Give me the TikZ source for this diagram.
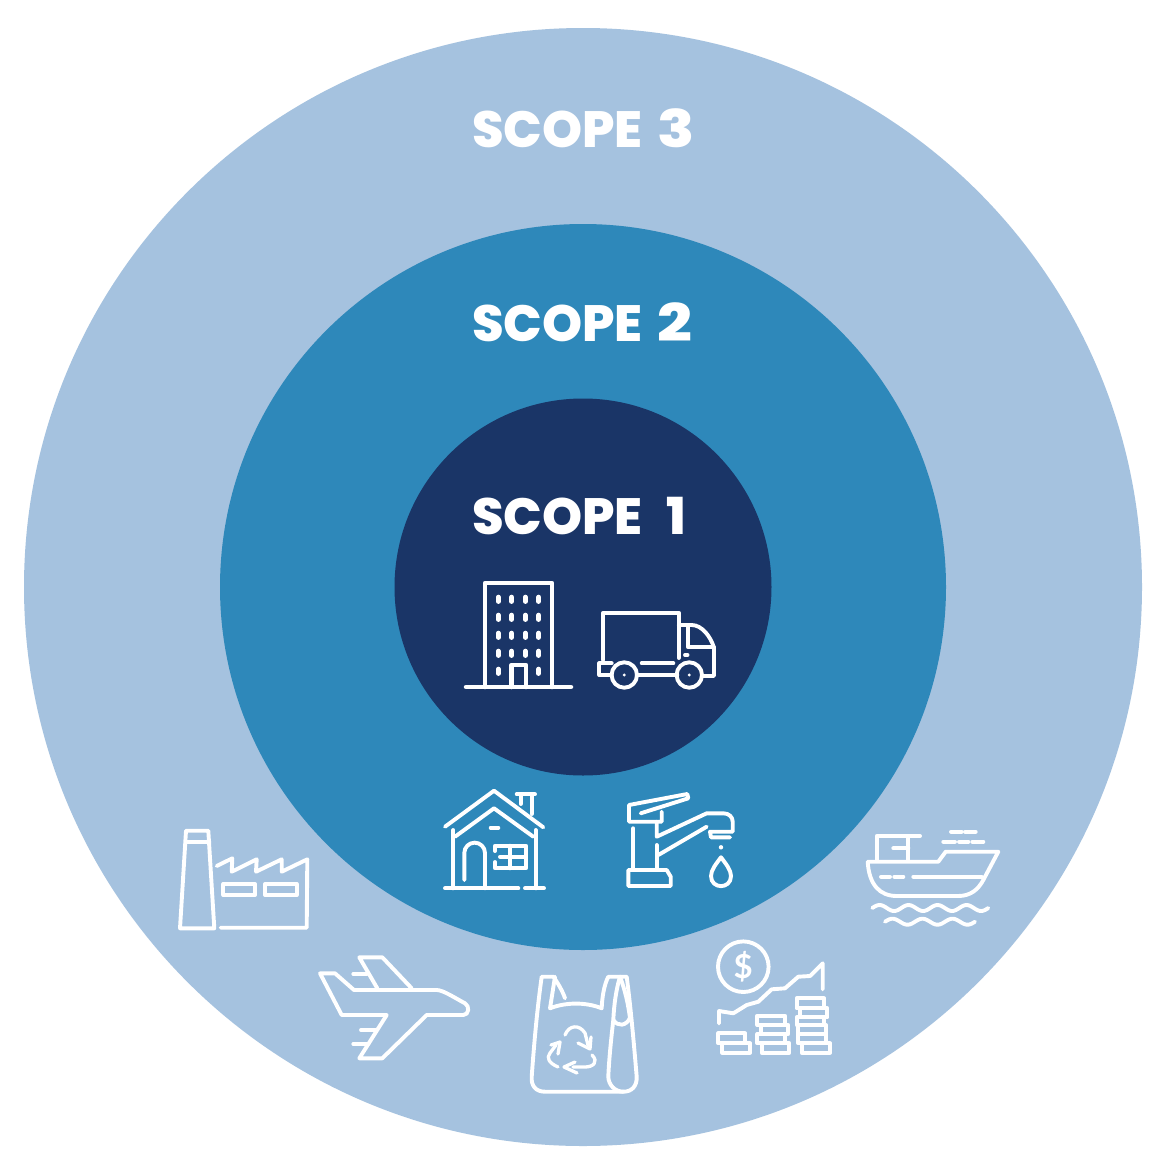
\documentclass[tikz,border=0pt]{standalone}
\usepackage{fontspec}
\setmainfont{Poppins}[BoldFont={Poppins ExtraBold}]
\newfontfamily\dollarfont{Lato}
\definecolor{scopeA}{HTML}{A5C2DF}
\definecolor{scopeB}{HTML}{2E88BA}
\definecolor{scopeC}{HTML}{1A3567}
\tikzset{
  icon/.style={draw=white,line width=3.9pt,line cap=round,line join=round},
  iconbold/.style={icon,line width=4.5pt},
  recyc/.style={icon,line width=3.3pt},
  scopelabel/.style={text=white,font=\fontsize{51}{51}\selectfont\bfseries,anchor=base west,inner sep=0pt,outer sep=0pt},
  wind/.style={draw=white,line width=4.8pt,line cap=round}
}
\begin{document}
\begin{tikzpicture}[x=1pt,y=-1pt]
\useasboundingbox (0,0) rectangle (1166,1170);
\fill[white] (0,0) rectangle (1166,1170);
\fill[scopeA] (583,587) circle[radius=559];
\fill[scopeB] (583,587) circle[radius=363];
\fill[scopeC] (583,587) circle[radius=188.5];
\node[scopelabel] (s3) at (472,147.5) {SCOPE\hspace{15pt}\scalebox{1.2}[1.02]{3}};
\node[scopelabel] (s2) at (472,341) {SCOPE\hspace{15pt}\scalebox{1.2}[1.02]{2}};
\node[scopelabel] (s1) at (472,534.5) {SCOPE\hspace{24pt}1};
% building
\draw[iconbold] (485,687) -- (485,583) -- (552,583) -- (552,687);
\draw[iconbold] (466,687) -- (571,687);
\draw[iconbold] (511.7,687) -- (511.7,665) -- (526,665) -- (526,687);
\foreach \wx in {498.3,511.7,525.3,538.7}
  \foreach \wy in {599.3,617.3,635.3,653.3}
    \draw[wind] (\wx,\wy-2.2) -- (\wx,\wy+2.2);
\foreach \wx in {498.3,538.7}
  \draw[wind] (\wx,669.1) -- (\wx,673.5);
% truck
\draw[icon] (603.3,660) -- (603.3,612.7) -- (678.7,612.7) -- (678.7,658);
\draw[icon] (678.7,625) -- (691.7,625) .. controls (702,625) and (711,637) .. (714,648) -- (714,676) -- (701.7,676);
\draw[icon] (688.3,625) -- (688.3,647.3) -- (714,647.3);
\draw[icon] (611.7,663.3) -- (599.3,663.3) -- (599.3,675) -- (611.7,675);
\draw[icon] (636.7,675) -- (677.3,675);
\draw[icon] (641.7,663.3) -- (673.3,663.3);
\draw[icon] (685,655) -- (687.5,655);
\draw[icon] (624.3,675) circle[radius=12.7];
\draw[icon] (689.3,675) circle[radius=12.7];
\fill[white] (624.3,675) circle[radius=1.6];
\fill[white] (689.3,675) circle[radius=1.6];
% house
\draw[icon] (445,826.7) -- (494,790.7) -- (543.3,827.3);
\draw[icon] (455,836.7) -- (494,808.3) -- (533.3,836.7);
\draw[icon] (453.3,830) -- (453.3,888.3);
\draw[icon] (535.7,830) -- (535.7,888.3);
\draw[icon] (445,888.3) -- (518.3,888.3);
\draw[icon] (525,888.3) -- (544,888.3);
\draw[icon] (520.7,795) -- (520.7,804);
\draw[icon] (531.7,795) -- (531.7,814);
\draw[icon] (516.7,794.3) -- (535,794.3);
\draw[icon] (464.3,880) -- (464.3,853) arc[start angle=180,end angle=360,x radius=10.35,y radius=10.35] -- (485,888.3);
\draw[icon] (490.7,827.7) -- (498.3,827.7);
\draw[icon] (500,856.7) -- (526,856.7) -- (526,845.7) -- (495,845.7) -- (495,851);
\draw[icon] (495,862) -- (495,868.3) -- (526,868.3) -- (526,856.7);
\draw[icon] (510,845.7) -- (510,868.3);
% faucet
\draw[icon] (640.7,813.3) -- (688.3,798.3) -- (687.3,794) -- (629,805) -- (629,821.7) -- (661.7,821.7) -- (661.7,811.7);
\draw[icon] (633.3,828.3) -- (633.3,870);
\draw[icon] (656.7,821.7) -- (656.7,836.7) -- (706.7,813.3) -- (723.3,813.3) .. controls (729,813.3) and (732.7,817) .. (732.7,821.7) -- (732.7,831.7) -- (710,831.7) -- (711,837.3) -- (730,837.3);
\draw[icon] (656.7,845) -- (656.7,870);
\draw[icon] (658.3,855) -- (706.7,826.7);
\draw[icon] (628.3,870) -- (666.7,870) -- (670.7,876.7) -- (670.7,886) -- (628.3,886) -- cycle;
\fill[white] (721,847.3) circle[radius=2.2];
\draw[icon] (721,857.3) .. controls (716,864) and (711,870) .. (711,876) .. controls (711,889.5) and (731,889.5) .. (731,876) .. controls (731,870) and (726,864) .. (721,857.3) -- cycle;
% factory
\draw[icon] (186,830.7) -- (208.3,830.7) -- (214.3,928.3) -- (180,928.3) -- cycle;
\draw[icon] (186.7,841.7) -- (209.3,841.7);
\draw[icon] (216.7,866) -- (232.3,858.3) -- (231.7,871.7) -- (256.7,859.3) -- (256,871.7) -- (281.7,859.3) -- (281.7,871.7) -- (307.3,859.3) -- (306.7,927.7) -- (220.7,927.7);
\draw[icon] (223.3,884) rectangle (255,895);
\draw[icon] (265,884) rectangle (296.7,895);
% plane
\draw[icon] (320,973.3) -- (335,973.3) -- (354,990) -- (436.7,990) .. controls (443,990) and (455,998) .. (465,1003.3) .. controls (470,1006) and (469,1015) .. (463.3,1015) -- (426.7,1015) -- (382.3,1058.3) -- (359.3,1058.3) -- (386.7,1015) -- (341.7,1015) -- cycle;
\draw[icon] (377.3,988.3) -- (359.3,957.3) -- (382.3,957.3) -- (411.7,988.3);
\draw[icon] (353.3,974) -- (366.7,974);
\draw[icon] (361,1030) -- (376.7,1030);
\draw[icon] (353.3,1044) -- (368.3,1044);
% bag
\draw[icon] (608.3,976.7) -- (626.7,976.7) .. controls (631,1010) and (634,1045) .. (636.7,1076.7) .. controls (637,1086) and (632,1091.7) .. (623.3,1091.7) -- (545,1091.7) .. controls (536,1091.7) and (531,1086) .. (531.7,1076.7) .. controls (534,1045) and (537,1010) .. (541.7,976.7) -- (553.3,976.7) .. controls (558,983) and (563,992) .. (565,998.3);
\draw[icon] (555,976.7) -- (550,1008.3) .. controls (566,1002) and (586,1002) .. (601.7,1008.3) .. controls (602,998) and (604,985) .. (608.3,976.7);
\draw[icon] (620,976.7) .. controls (616,990) and (614,1005) .. (613.3,1020) .. controls (611,1040) and (609,1060) .. (608.3,1076.7) .. controls (608.5,1085) and (615,1091.7) .. (623.3,1091.7);
\draw[icon] (613.3,1020) .. controls (618,1027) and (626,1026) .. (630,1018);
\draw[icon] (620,976.7) .. controls (625,990) and (628,1003) .. (630,1018);
% recycle
\draw[recyc] (565,1035) .. controls (569,1025) and (579,1024) .. (585,1033) -- (588,1045);
\draw[recyc] (578,1043) -- (590,1049) -- (591,1037);
\draw[recyc] (592,1055) .. controls (599,1062) and (593,1067) .. (585,1067) -- (573,1067);
\draw[recyc] (575,1062) -- (564,1067) -- (577,1073);
\draw[recyc] (558,1067) .. controls (549,1063) and (546,1058) .. (550,1053) -- (556,1045);
\draw[recyc] (551,1045) -- (560,1042) -- (558,1054);
% finance
\draw[icon] (743.3,966.7) circle[radius=25.3];
\node[text=white,font=\dollarfont\bfseries\fontsize{33}{33}\selectfont,inner sep=0pt] (dollar) at (743.3,966.7) {\$};
\draw[icon] (719,1023.3) -- (719,1011) -- (733.3,1013.3) -- (746.7,1005) -- (758.3,1001.7) -- (771.7,989.3) -- (785,988.3) -- (798.3,976.7) -- (810,976) -- (822.7,963.3) -- (822.7,989.3);
\draw[icon] (718.3,1033.3) rectangle (745,1043.3);
\draw[icon] (722.3,1043.3) rectangle (750,1052.7);
\draw[icon] (757.3,1015.7) rectangle (785,1025);
\draw[icon] (760.7,1025) rectangle (788.3,1034);
\draw[icon] (757.3,1034) rectangle (785,1043.3);
\draw[icon] (761.7,1043.3) rectangle (789.3,1052.7);
\draw[icon] (796.7,998.3) rectangle (824,1008.3);
\draw[icon] (800,1008.3) rectangle (827.3,1017.3);
\draw[icon] (796.7,1017.3) rectangle (824,1025);
\draw[icon] (798.3,1025) rectangle (826,1034);
\draw[icon] (798.3,1034) rectangle (826,1043.3);
\draw[icon] (801.7,1043.3) rectangle (830,1052.7);
% ship
\draw[icon] (867.7,861.7) -- (938.3,861.7) -- (945.7,851.7) -- (998.3,851.7) -- (983.3,880) .. controls (978,890) and (970,896) .. (958.3,896) -- (896.7,896) .. controls (880,896) and (869,885) .. (867.7,861.7);
\draw[icon] (913.3,876.7) -- (981.7,876.7);
\draw[icon] (881,876.7) -- (890,876.7);
\draw[icon] (894.3,876.7) -- (903.3,876.7);
\draw[icon] (876.7,860) -- (876.7,836) -- (920,836);
\draw[icon] (908.3,836) -- (908.3,860);
\draw[icon] (893.3,848.3) -- (908.3,848.3);
\draw[icon] (951,831.7) -- (961.7,831.7);
\draw[icon] (965,831.7) -- (975.7,831.7);
\draw[icon] (943.3,841.7) -- (955,841.7);
\draw[icon] (959,841.7) -- (968.3,841.7);
\draw[icon] (972.3,841.7) -- (983.3,841.7);
\draw[icon] plot[domain=0:116,samples=80,smooth] ({872.3+\x},{908-3*sin(\x/29*360)});
\draw[icon] plot[domain=0:90,samples=60,smooth] ({885+\x},{921.7-3*sin(\x/30*360)});
\end{tikzpicture}
\end{document}
